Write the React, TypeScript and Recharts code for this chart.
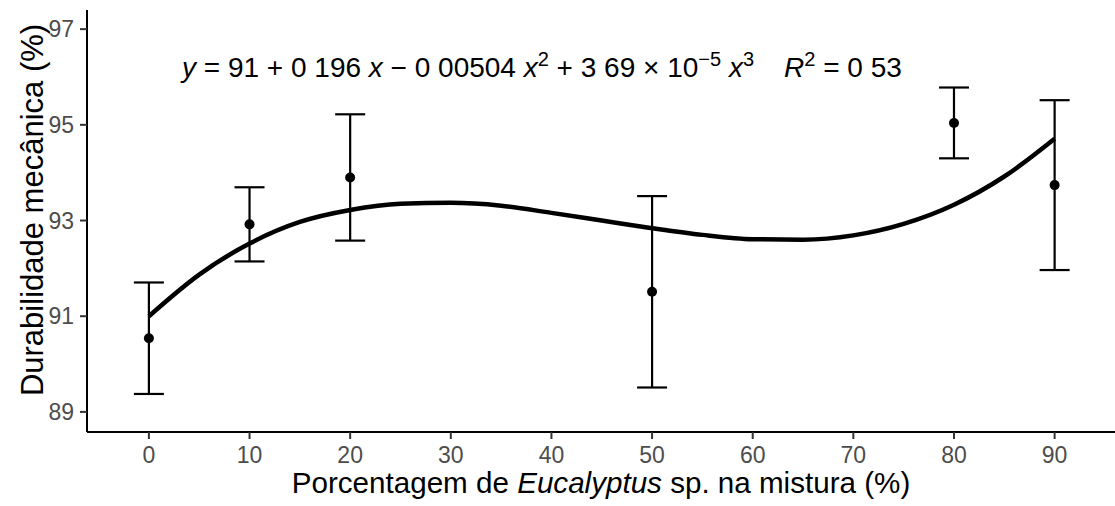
import React from 'react';
import {
  ComposedChart, Line, Scatter, ErrorBar, XAxis, YAxis,
} from 'recharts';

// tick labels
const xTicks = [0, 10, 20, 30, 40, 50, 60, 70, 80, 90];
const yTicks = [89, 91, 93, 95, 97];

// observed means and error bars
const pointX = [0, 10, 20, 50, 80, 90];
const pointMean = [90.54, 92.92, 93.9, 91.51, 95.04, 93.74];
const pointErr = [1.165, 0.775, 1.32, 2.0, 0.74, 1.775];

// fitted curve
const curveX = [0, 5, 10, 15, 20, 25, 30, 35, 40, 45, 50, 55, 60, 65, 70, 75, 80, 85, 90];
const curveY = [91.0, 91.87, 92.52, 92.97, 93.22, 93.35, 93.37, 93.31, 93.16, 93.0, 92.84, 92.7, 92.61, 92.6, 92.69, 92.93, 93.33, 93.92, 94.71];

const points = pointX.map((x, i) => ({ x, y: pointMean[i], err: pointErr[i] }));
const curve = curveX.map((x, i) => ({ x, y: curveY[i] }));

const FONT = '"Liberation Sans", Arial, sans-serif';
const W = 1115;
const H = 506;

const Dot = (props: any) => <circle cx={props.cx} cy={props.cy} r={5} fill="#000" />;

export default function App() {
  return (
    <div style={{ position: 'absolute', left: 0, top: 0, width: W, height: H, background: '#fff' }}>
      <ComposedChart width={W} height={H} margin={{ top: 10, right: 0, bottom: 0, left: 0 }}>
        <XAxis
          type="number"
          dataKey="x"
          domain={[-6.15, 96]}
          ticks={xTicks}
          allowDataOverflow
          height={74}
          tickSize={7}
          tickMargin={8}
          axisLine={{ stroke: '#000', strokeWidth: 2 }}
          tickLine={{ stroke: '#333', strokeWidth: 2 }}
          tick={{ fill: '#4d4d4d', fontSize: 23, fontFamily: FONT }}
        />
        <YAxis
          type="number"
          domain={[88.58, 97.4]}
          ticks={yTicks}
          allowDataOverflow
          width={87}
          tickSize={7}
          tickMargin={6}
          axisLine={{ stroke: '#000', strokeWidth: 2 }}
          tickLine={{ stroke: '#333', strokeWidth: 2 }}
          tick={{ fill: '#4d4d4d', fontSize: 23, fontFamily: FONT }}
        />
        <Scatter data={points} dataKey="y" shape={Dot} isAnimationActive={false}>
          <ErrorBar dataKey="err" direction="y" width={15} stroke="#000" strokeWidth={2.2} />
        </Scatter>
        <Line
          data={curve}
          dataKey="y"
          type="monotone"
          stroke="#000"
          strokeWidth={4.5}
          dot={false}
          activeDot={false}
          isAnimationActive={false}
        />
      </ComposedChart>
      <svg width={W} height={H} style={{ position: 'absolute', left: 0, top: 0, pointerEvents: 'none' }}>
        <text
          transform="translate(43,210) rotate(-90)"
          textAnchor="middle"
          fontSize={31}
          fontFamily={FONT}
          fill="#000"
        >
          Durabilidade mecânica (%)
        </text>
        <text x={601} y={493} textAnchor="middle" fontSize={29.6} fontFamily={FONT} fill="#000">
          Porcentagem de <tspan fontStyle="italic">Eucalyptus</tspan> sp. na mistura (%)
        </text>
        <text x={182} y={77} fontSize={28} fontFamily={FONT} fill="#000" style={{ whiteSpace: 'pre' }}>
          <tspan fontStyle="italic">y</tspan>
          <tspan> = 91 + 0 196 </tspan>
          <tspan fontStyle="italic">x</tspan>
          <tspan> − 0 00504 </tspan>
          <tspan fontStyle="italic">x</tspan>
          <tspan dy={-11} fontSize={20}>2</tspan>
          <tspan dy={11}> + 3 69 × 10</tspan>
          <tspan dy={-11} fontSize={20}>−5</tspan>
          <tspan dy={11}> </tspan>
          <tspan fontStyle="italic">x</tspan>
          <tspan dy={-11} fontSize={20}>3</tspan>
          <tspan dy={11} dx={30} fontStyle="italic">R</tspan>
          <tspan dy={-11} fontSize={20}>2</tspan>
          <tspan dy={11}> = 0 53</tspan>
        </text>
      </svg>
    </div>
  );
}
